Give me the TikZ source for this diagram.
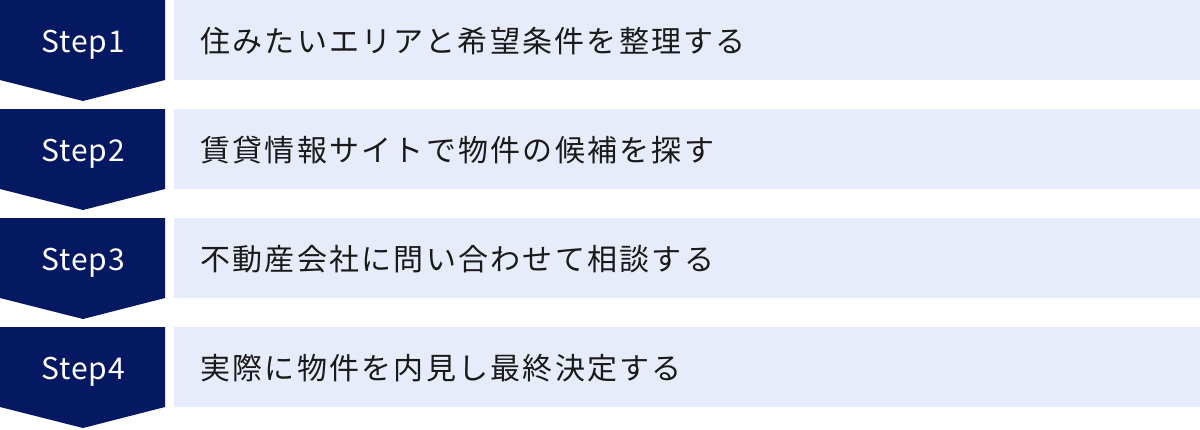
\documentclass[tikz,border=0pt]{standalone}
\usepackage{fontspec}
\setmainfont{Noto Sans CJK JP}
\newfontfamily\jpfont[LetterSpace=7.5]{Noto Sans CJK JP}
\newfontfamily\stepfont[LetterSpace=3]{Noto Sans CJK JP}
\definecolor{stepnavy}{RGB}{5,24,98}
\definecolor{stepbarbg}{RGB}{230,236,250}
\definecolor{steptext}{RGB}{26,26,26}

\begin{document}
\begin{tikzpicture}[x=0.5pt, y=-0.5pt,
    stepshape/.style={fill=stepnavy},
    stepbar/.style={fill=stepbarbg},
    steplabel/.style={text=white, anchor=base, font=\stepfont\fontsize{15}{18}\selectfont, inner sep=0pt},
    bartext/.style={text=steptext, anchor=base west, font=\jpfont\fontsize{15}{18}\selectfont, inner sep=0pt}]
                %keep the page as large as the reference
                \useasboundingbox (0,0) rectangle (1200,429);

                %step 1
                \fill[stepshape] (0,0) -- (165,0) -- (165,80) -- (83,101) -- (0,80) -- cycle;
                \fill[stepbar] (174,0) rectangle (1200,80);
                \node[steplabel] (s1) at (83,52) {Step1};
                \node[bartext] (t1) at (200,52) {住みたいエリアと希望条件を整理する};

                %step 2
                \fill[stepshape] (0,109) -- (165,109) -- (165,189) -- (83,210) -- (0,189) -- cycle;
                \fill[stepbar] (174,109) rectangle (1200,189);
                \node[steplabel] (s2) at (83,161) {Step2};
                \node[bartext] (t2) at (200,161) {賃貸情報サイトで物件の候補を探す};

                %step 3
                \fill[stepshape] (0,218) -- (165,218) -- (165,298) -- (83,319) -- (0,298) -- cycle;
                \fill[stepbar] (174,218) rectangle (1200,298);
                \node[steplabel] (s3) at (83,270) {Step3};
                \node[bartext] (t3) at (200,270) {不動産会社に問い合わせて相談する};

                %step 4
                \fill[stepshape] (0,327) -- (165,327) -- (165,407) -- (83,428) -- (0,407) -- cycle;
                \fill[stepbar] (174,327) rectangle (1200,407);
                \node[steplabel] (s4) at (83,379) {Step4};
                \node[bartext] (t4) at (200,379) {実際に物件を内見し最終決定する};
\end{tikzpicture}
\end{document}
